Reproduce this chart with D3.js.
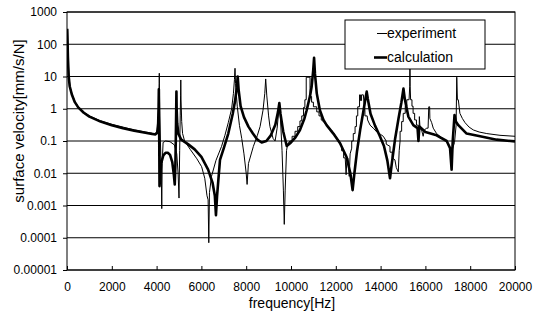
<!DOCTYPE html>
<html>
<head>
<meta charset="utf-8">
<script src="https://cdn.jsdelivr.net/npm/d3@7"></script>
<style>
  html, body { margin: 0; padding: 0; background: #fff; }
  svg { display: block; }
</style>
</head>
<body>
<svg id="chart" width="542" height="320"></svg>
<script>
// tick values / labels
const xTicks = [0, 2000, 4000, 6000, 8000, 10000, 12000, 14000, 16000, 18000, 20000];
const yTicks = [0.00001, 0.0001, 0.001, 0.01, 0.1, 1, 10, 100, 1000];
const yTickLabels = ['0.00001', '0.0001', '0.001', '0.01', '0.1', '1', '10', '100', '1000'];
const seriesNames = ['experiment', 'calculation'];

// calculation: [frequency Hz, velocity mm/s/N]
const calcData = [
  [10,300],[40,40],[75,10],[120,5],[220,2.7],[350,1.6],[500,1.1],[750,0.75],[1000,0.57],
  [1500,0.4],[2000,0.31],[2500,0.25],[3000,0.21],[3500,0.18],[3800,0.165],[3950,0.16],
  [4030,0.18],[4070,0.35],[4090,1.2],[4100,4],[4108,0.8],[4118,0.1],[4130,0.004],[4150,0.006],
  [4200,0.02],[4300,0.036],[4400,0.043],[4500,0.043],[4600,0.037],[4700,0.022],[4770,0.009],
  [4810,0.0045],[4840,0.02],[4860,0.15],[4875,0.9],[4885,3.4],[4895,1],[4920,0.35],[4970,0.17],
  [5100,0.11],[5400,0.08],[5700,0.055],[6000,0.032],[6300,0.013],[6500,0.005],[6600,0.002],
  [6650,0.0005],[6700,0.002],[6830,0.026],[7000,0.06],[7200,0.17],[7400,0.7],[7500,1.7],
  [7580,4.5],[7620,10],[7660,4],[7750,1.2],[7900,0.55],[8100,0.28],[8300,0.17],[8500,0.11],
  [8690,0.09],[8900,0.1],[9100,0.15],[9300,0.32],[9420,0.8],[9480,1.5],[9530,0.7],[9650,0.2],
  [9810,0.07],[10000,0.09],[10200,0.13],[10400,0.22],[10600,0.5],[10700,0.9],[10850,2.5],
  [10920,4.8],[10990,15],[11030,38],[11070,12],[11150,3],[11290,0.9],[11450,0.45],[11590,0.31],
  [11890,0.17],[12190,0.085],[12480,0.032],[12650,0.01],[12750,0.003],[12830,0.01],[12950,0.05],
  [13100,0.25],[13250,1],[13330,2.2],[13380,3.4],[13430,2],[13550,0.7],[13750,0.3],[13950,0.15],
  [14150,0.07],[14300,0.025],[14420,0.007],[14500,0.02],[14650,0.12],[14800,0.5],[14930,1.6],
  [15020,4.2],[15080,2],[15240,0.57],[15460,0.31],[15650,0.25],[15690,0.1],[15730,0.28],
  [16000,0.19],[16500,0.15],[16950,0.1],[17100,0.06],[17170,0.013],[17220,0.1],[17300,0.64],
  [17360,0.4],[17470,0.31],[17840,0.17],[18440,0.14],[19180,0.11],[20000,0.097]
];

// experiment: [frequency Hz, velocity mm/s/N] (stair steps kept as read)
const expData = [
  [25,280],[50,40],[80,12],[130,5],[220,2.9],[350,1.7],[500,1.15],[750,0.78],[1000,0.6],
  [1500,0.42],[2000,0.33],[2500,0.27],[3000,0.22],[3500,0.19],[3800,0.175],[3950,0.17],
  [4030,0.22],[4070,0.5],[4100,2],[4115,6],[4120,12.6],[4128,3],[4140,0.6],[4170,0.1],
  [4210,0.01],[4230,0.0008],[4250,0.02],[4290,0.09],[4400,0.1],[4600,0.095],[4800,0.075],
  [4900,0.04],[4960,0.01],[5000,0.0017],[5030,0.05],[5055,0.6],[5070,2.5],[5080,7.8],[5090,2],
  [5120,0.4],[5160,0.17],[5250,0.1],[5500,0.055],[5800,0.028],[6010,0.016],[6150,0.007],
  [6250,0.002],[6300,0.0015],[6330,0.00007],[6360,0.0025],[6450,0.008],[6650,0.025],
  [6900,0.068],[7050,0.15],[7200,0.37],[7350,1],[7430,3],[7475,8],[7500,18],[7525,6],
  [7600,1.2],[7700,0.3],[7800,0.12],[7900,0.04],[8000,0.01],[8040,0.0045],[8100,0.02],
  [8320,0.068],[8500,0.15],[8620,0.28],[8750,0.9],[8830,3],[8870,8.4],[8920,2.5],[9000,0.6],
  [9060,0.28],[9200,0.12],[9290,0.1],[9380,0.25],[9450,0.8],[9480,1.3],[9530,0.5],[9600,0.05],
  [9660,0.003],[9700,0.00026],[9740,0.003],[9800,0.05],[9850,0.08],[9950,0.1],
  [10050,0.1],[10050,0.14],[10180,0.14],[10180,0.2],[10300,0.2],[10300,0.28],[10400,0.28],
  [10400,0.42],[10480,0.42],[10480,0.6],[10560,0.6],[10560,1.1],[10620,1.1],[10620,1.9],
  [10680,1.9],[10680,9.5],[10850,9.5],[10850,2.4],[10920,2.4],[10920,1.6],[11000,1.6],
  [11000,1.15],[11150,1.15],[11150,0.8],[11250,0.8],[11250,0.6],[11350,0.6],[11350,0.45],
  [11450,0.4],[11600,0.3],[11800,0.22],[11900,0.18],[12000,0.14],[12100,0.11],[12200,0.09],
  [12260,0.068],[12260,0.05],[12350,0.05],[12350,0.03],[12420,0.03],[12460,0.009],[12500,0.03],
  [12540,0.03],[12600,0.008],[12640,0.04],[12710,0.06],[12710,0.1],[12780,0.1],[12780,0.17],
  [12860,0.17],[12860,0.28],[12920,0.28],[12920,0.6],[12980,0.6],[12980,1.15],[13060,1.15],
  [13060,2.7],[13100,2.7],[13100,1.8],[13150,1.8],[13150,2.7],[13230,2.7],[13260,1.5],
  [13300,0.9],[13300,0.6],[13400,0.6],[13420,0.45],[13530,0.31],[13700,0.24],[13830,0.19],
  [14000,0.16],[14120,0.14],[14250,0.1],[14250,0.08],[14420,0.068],[14420,0.045],[14520,0.045],
  [14520,0.03],[14640,0.026],[14700,0.015],[14790,0.011],[14830,0.05],[14870,0.1],[14870,0.2],
  [14940,0.2],[14940,0.4],[15010,0.4],[15010,0.72],[15100,0.72],[15100,1.2],[15170,1.2],
  [15170,1.9],[15270,1.9],[15300,5],[15310,40],[15320,5],[15340,1.9],[15400,1.9],[15400,1.2],
  [15450,1.2],[15450,0.72],[15520,0.72],[15520,0.45],[15600,0.45],[15600,0.31],[15680,0.31],
  [15680,0.17],[15720,0.17],[15730,0.57],[15760,0.25],[15830,0.22],[15900,0.14],[15950,0.22],
  [16060,0.25],[16120,0.25],[16150,1.15],[16190,1.15],[16200,0.5],[16280,0.37],[16350,0.25],
  [16500,0.17],[16700,0.13],[16950,0.1],[17100,0.058],[17170,0.04],[17220,0.06],[17300,0.09],
  [17370,0.3],[17400,9.5],[17430,1.9],[17470,1.9],[17540,0.72],[17650,0.5],[17770,0.37],
  [17950,0.27],[18140,0.22],[18400,0.19],[18740,0.17],[19330,0.15],[20000,0.14]
];

const CHART = {
  WIDTH: 542,
  HEIGHT: 320,
  MARGIN: { top: 12, right: 27, bottom: 50, left: 67 },
  FONT: '"Liberation Sans", Arial, sans-serif',
  TICK_FONT_SIZE: '12px',
  LEGEND_FONT_SIZE: '14px',
  X_TITLE_SIZE: '14px',
  Y_TITLE_SIZE: '15px',
  EXP_WIDTH: 1,
  CALC_WIDTH: 2.6
};

const svg = d3.select('#chart');
const plotW = CHART.WIDTH - CHART.MARGIN.left - CHART.MARGIN.right;
const plotH = CHART.HEIGHT - CHART.MARGIN.top - CHART.MARGIN.bottom;

const x = d3.scaleLinear().domain([0, 20000]).range([0, plotW]);
const y = d3.scaleLog().domain([0.00001, 1000]).range([plotH, 0]);

const g = svg.append('g')
  .attr('transform', `translate(${CHART.MARGIN.left},${CHART.MARGIN.top})`);

// horizontal grid at each decade
g.append('g').attr('class', 'grid')
  .selectAll('line')
  .data(yTicks)
  .join('line')
  .attr('x1', 0)
  .attr('x2', plotW)
  .attr('y1', d => y(d))
  .attr('y2', d => y(d))
  .attr('stroke', '#000')
  .attr('stroke-width', 1);

// axes
const xAxis = g.append('g')
  .attr('transform', `translate(0,${plotH})`)
  .call(d3.axisBottom(x).tickValues(xTicks).tickSizeInner(-4).tickSizeOuter(0).tickPadding(12)
    .tickFormat(d3.format('d')));

const yAxis = g.append('g')
  .call(d3.axisLeft(y).tickValues(yTicks).tickSizeInner(4).tickSizeOuter(0).tickPadding(6)
    .tickFormat((d, i) => yTickLabels[i]));

[xAxis, yAxis].forEach(ax => {
  ax.select('.domain').remove();
  ax.selectAll('line').attr('stroke', '#000');
  ax.selectAll('text')
    .attr('fill', '#000')
    .style('font-family', CHART.FONT)
    .style('font-size', CHART.TICK_FONT_SIZE);
});

// clip lines to the plot area
svg.append('defs').append('clipPath').attr('id', 'plot-clip')
  .append('rect').attr('width', plotW).attr('height', plotH);

const line = d3.line()
  .x(d => x(d[0]))
  .y(d => y(d[1]));

const lines = g.append('g').attr('clip-path', 'url(#plot-clip)');

lines.append('path')
  .datum(calcData)
  .attr('fill', 'none')
  .attr('stroke', '#000')
  .attr('stroke-width', CHART.CALC_WIDTH)
  .attr('stroke-linejoin', 'round')
  .attr('d', line);

lines.append('path')
  .datum(expData)
  .attr('fill', 'none')
  .attr('stroke', '#000')
  .attr('stroke-width', CHART.EXP_WIDTH)
  .attr('d', line);

// plot frame
g.append('rect')
  .attr('width', plotW)
  .attr('height', plotH)
  .attr('fill', 'none')
  .attr('stroke', '#000')
  .attr('stroke-width', 1);

// legend box
const legend = g.append('g')
  .attr('transform', `translate(${345 - CHART.MARGIN.left},${20 - CHART.MARGIN.top})`);

legend.append('rect')
  .attr('width', 140)
  .attr('height', 49)
  .attr('fill', '#fff')
  .attr('stroke', '#000')
  .attr('stroke-width', 1);

const legendWidths = [CHART.EXP_WIDTH, CHART.CALC_WIDTH];
const legendStart = [32, 29];
seriesNames.forEach((name, i) => {
  const ly = 13.5 + i * 24;
  legend.append('line')
    .attr('x1', legendStart[i]).attr('x2', 42)
    .attr('y1', ly).attr('y2', ly)
    .attr('stroke', '#000')
    .attr('stroke-width', legendWidths[i]);
  legend.append('text')
    .attr('x', 42)
    .attr('y', ly)
    .attr('dy', '0.35em')
    .style('font-family', CHART.FONT)
    .style('font-size', CHART.LEGEND_FONT_SIZE)
    .text(name);
});

// axis titles
svg.append('text')
  .attr('x', 292)
  .attr('y', 308)
  .attr('text-anchor', 'middle')
  .style('font-family', CHART.FONT)
  .style('font-size', CHART.X_TITLE_SIZE)
  .text('frequency[Hz]');

svg.append('text')
  .attr('transform', `translate(19,121) rotate(-90)`)
  .attr('text-anchor', 'middle')
  .attr('dy', '0.35em')
  .style('font-family', CHART.FONT)
  .style('font-size', CHART.Y_TITLE_SIZE)
  .text('surface velocity[mm/s/N]');
</script>
</body>
</html>
